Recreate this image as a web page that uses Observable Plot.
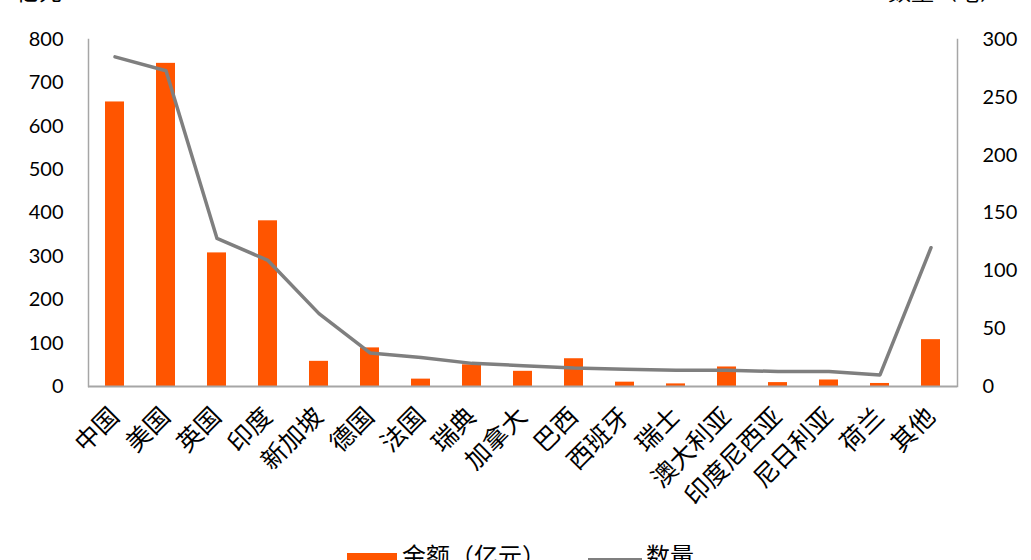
<!DOCTYPE html>
<html>
<head>
<meta charset="utf-8">
<script src="https://cdn.jsdelivr.net/npm/d3@7"></script>
<script src="https://cdn.jsdelivr.net/npm/@observablehq/plot@0.6"></script>
<style>
  html, body { margin: 0; padding: 0; background: #fff; overflow: hidden; }
  body { width: 1031px; height: 560px; position: relative; font-family: Lato, "Noto Sans CJK SC", sans-serif; }
  #chart { position: absolute; left: 0; top: 0; }
  .ttl { position: absolute; font-size: 23px; color: #000; white-space: nowrap; line-height: 1; }
  .leg { position: absolute; font-size: 24px; color: #000; white-space: nowrap; line-height: 1; }
</style>
</head>
<body>
<div id="chart"></div>
<div class="ttl" style="left:16px; top:-20px;">亿元</div>
<div class="ttl" style="left:888px; top:-20px;">数量（笔）</div>
<div class="leg" style="left:347px; top:553px; width:50px; height:20px; background:#FF5500;"></div>
<div class="leg" style="left:402px; top:544px;">金额（亿元）</div>
<div class="leg" style="left:588px; top:558px; width:54px; height:4px; background:#7F7F7F;"></div>
<div class="leg" style="left:646px; top:544px;">数量</div>
<script>
const categories = ["中国","美国","英国","印度","新加坡","德国","法国","瑞典","加拿大","巴西","西班牙","瑞士","澳大利亚","印度尼西亚","尼日利亚","荷兰","其他"];
const amounts = [656, 745, 308, 382, 58, 89, 17, 50, 35, 64, 10, 6, 45, 9, 15, 7, 108];
const counts = [285, 273, 128, 109, 63, 29, 25, 20, 18, 16, 15, 14, 14, 13, 13, 10, 120];
const leftTicks = [0,100,200,300,400,500,600,700,800];
const rightTicks = [0,50,100,150,200,250,300];

const k = 800 / 300;
const data = categories.map((c, i) => ({cat: c, amount: amounts[i], count: counts[i], countScaled: counts[i] * k}));

const chart = Plot.plot({
  width: 1031,
  height: 520,
  marginLeft: 88,
  marginRight: 74,
  marginTop: 39,
  marginBottom: 134,
  style: {fontFamily: 'Lato, "Noto Sans CJK SC", sans-serif', fontSize: "20px", color: "#000", background: "#fff"},
  x: {domain: categories, paddingInner: 0.62, paddingOuter: 0.31, label: null},
  y: {domain: [0, 800], label: null},
  marks: [
    Plot.barY(data, {x: "cat", y: "amount", fill: "#FF5500"}),
    Plot.frame({anchor: "left", stroke: "#A6A6A6", strokeWidth: 1.5}),
    Plot.frame({anchor: "right", stroke: "#A6A6A6", strokeWidth: 1.5}),
    Plot.ruleY([0], {stroke: "#A6A6A6", strokeWidth: 2}),
    Plot.line(data, {x: "cat", y: "countScaled", stroke: "#7F7F7F", strokeWidth: 3.5, strokeLinejoin: "round"}),
    Plot.axisY(leftTicks, {anchor: "left", tickSize: 0, tickPadding: 25, fontSize: 20, label: null}),
    Plot.axisY(rightTicks.map(v => v * k), {anchor: "right", tickSize: 0, tickPadding: 25, fontSize: 20, label: null, tickFormat: d => String(Math.round(d / k)), textAnchor: "start"}),
    Plot.axisX({tickSize: 0, tickRotate: -45, tickPadding: 26, fontSize: 25, label: null})
  ]
});
document.getElementById("chart").appendChild(chart);
</script>
</body>
</html>
